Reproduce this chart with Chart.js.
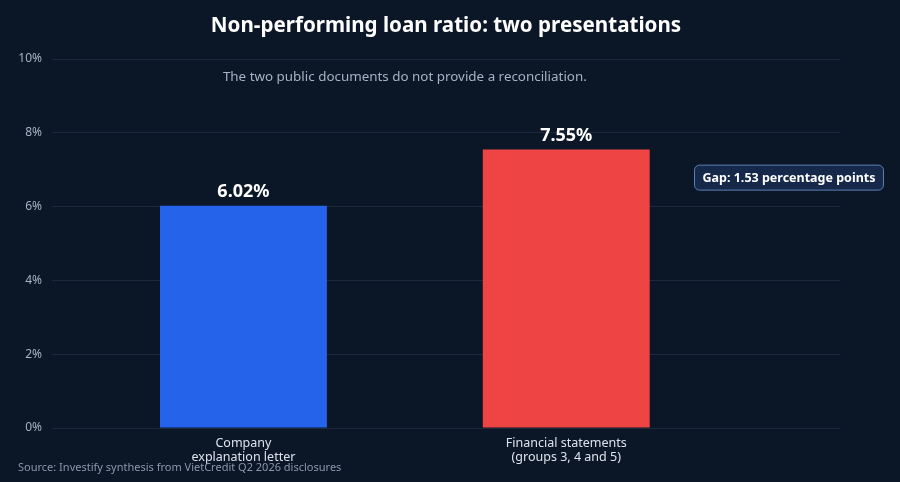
<!DOCTYPE html>
<html>
<head>
<meta charset="utf-8">
<script src="https://cdn.jsdelivr.net/npm/chart.js@4.4.1/dist/chart.umd.min.js"></script>
<style>
  html, body { margin: 0; padding: 0; background: #0b1627; }
  #wrap { width: 900px; height: 482px; }
</style>
</head>
<body>
<div id="wrap"><canvas id="c"></canvas></div>
<script>
const categories = [['Company', 'explanation letter'], ['Financial statements', '(groups 3, 4 and 5)']];
const nplRatio = [6.02, 7.55];
const barColors = ['#2563eb', '#ef4444'];
const yTicks = [0, 2, 4, 6, 8, 10];
const titleText = 'Non-performing loan ratio: two presentations';
const noteText = 'The two public documents do not provide a reconciliation.';
const gapText = 'Gap: ' + (nplRatio[1] - nplRatio[0]).toFixed(2) + ' percentage points';
const sourceText = 'Source: Investify synthesis from VietCredit Q2 2026 disclosures';

const FONT = '"Noto Sans", "Open Sans", sans-serif';

// textes dessinés à la main (titre, note, valeurs, encadré, source)
const overlay = {
	id: 'overlay',
	afterDraw(chart) {
		const ctx = chart.ctx;
		const x = chart.scales.x, y = chart.scales.y;
		const area = chart.chartArea;
		ctx.save();

		ctx.fillStyle = '#ffffff';
		ctx.font = 'bold 20.6px ' + FONT;
		ctx.textAlign = 'center';
		ctx.textBaseline = 'middle';
		ctx.fillText(titleText, (area.left + area.right) / 2, 26);

		ctx.fillStyle = '#a7b2c2';
		ctx.font = '13.4px ' + FONT;
		ctx.fillText(noteText, x.getPixelForValue(0.5), y.getPixelForValue(9.5));

		ctx.fillStyle = '#ffffff';
		ctx.font = 'bold 18px ' + FONT;
		nplRatio.forEach((v, i) => {
			ctx.fillText(v.toFixed(2) + '%', x.getPixelForValue(i), y.getPixelForValue(v) - 14);
		});

		// encadré de l'écart
		ctx.font = 'bold 12.5px ' + FONT;
		const gx = x.getPixelForValue(1.69);
		const gy = y.getPixelForValue((nplRatio[0] + nplRatio[1]) / 2);
		const w = ctx.measureText(gapText).width + 16;
		const h = 25;
		ctx.beginPath();
		ctx.roundRect(gx - w / 2, gy - h / 2, w, h, 5);
		ctx.fillStyle = '#16294a';
		ctx.fill();
		ctx.strokeStyle = '#5b80b4';
		ctx.lineWidth = 1;
		ctx.stroke();
		ctx.fillStyle = '#ffffff';
		ctx.fillText(gapText, gx, gy + 0.5);

		ctx.fillStyle = '#8c98aa';
		ctx.font = '11px ' + FONT;
		ctx.textAlign = 'left';
		ctx.fillText(sourceText, 18, 468);
		ctx.restore();
	}
};

new Chart(document.getElementById('c'), {
	type: 'bar',
	data: {
		datasets: [{
			data: nplRatio.map((v, i) => ({ x: i, y: v })),
			backgroundColor: barColors,
			borderWidth: 0,
			categoryPercentage: 1,
			barPercentage: 0.517
		}]
	},
	options: {
		responsive: true,
		maintainAspectRatio: false,
		animation: false,
		layout: { padding: { left: 0, right: 60, top: 59, bottom: 0 } },
		plugins: {
			legend: { display: false },
			title: { display: false },
			tooltip: { enabled: false }
		},
		scales: {
			x: {
				type: 'linear',
				offset: false,
				min: -0.593,
				max: 1.848,
				afterBuildTicks(scale) {
					scale.ticks = categories.map((c, i) => ({ value: i }));
				},
				afterFit(scale) { scale.height = 54; },
				grid: { display: false, offset: false },
				border: { display: false },
				ticks: {
					color: '#dde3ec',
					font: { family: FONT, size: 12.5, lineHeight: 1.12 },
					padding: 0,
					maxRotation: 0,
					callback: (v) => categories[v]
				}
			},
			y: {
				min: 0,
				max: 10,
				afterBuildTicks(scale) {
					scale.ticks = yTicks.map(v => ({ value: v }));
				},
				afterFit(scale) { scale.width = 52; },
				grid: { color: '#1d2a3d', lineWidth: 1, drawTicks: false },
				border: { display: false },
				ticks: {
					color: '#a7b2c2',
					font: { family: FONT, size: 12 },
					padding: 10,
					callback: (v) => v + '%'
				}
			}
		}
	},
	plugins: [overlay]
});
</script>
</body>
</html>
